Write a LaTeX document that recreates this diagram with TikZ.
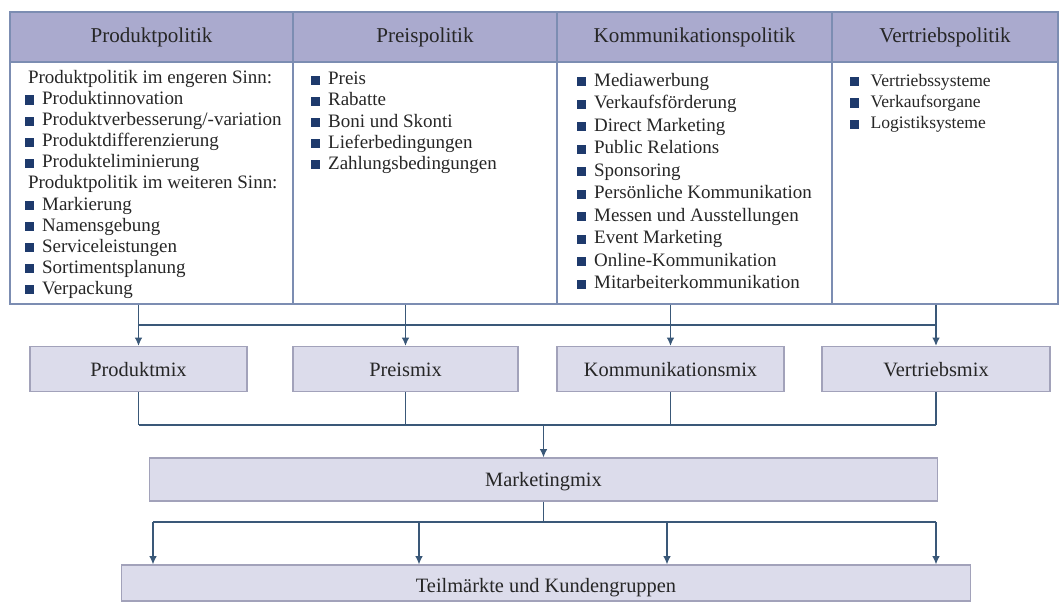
\documentclass[tikz,border=0pt]{standalone}
\usepackage{fontspec}
\setmainfont{Liberation Serif}
\usetikzlibrary{arrows.meta}

\definecolor{headfill}{HTML}{AAAACE}
\definecolor{tableline}{HTML}{7C8DB2}
\definecolor{mixfill}{HTML}{DCDCEB}
\definecolor{mixline}{HTML}{A2A2BA}
\definecolor{linkblue}{HTML}{3A5878}
\definecolor{bulletblue}{HTML}{1E3A6C}
\definecolor{textgrey}{HTML}{262626}

\newcommand{\bul}[1][5.5pt]{\textcolor{bulletblue}{\rule{6.5pt}{6.5pt}}\hspace{#1}}

\begin{document}
\begin{tikzpicture}[> = {Latex[length = 6pt, width = 5.5pt]}, x = 0.025cm, y = -0.025cm, text = textgrey,
	head/.style = {draw = tableline, fill = headfill, line width = 1pt, minimum height = 1.25cm, inner sep = 0pt, font = \fontsize{15}{18}\selectfont},
	body/.style = {draw = tableline, line width = 1pt, minimum height = 6.05cm, inner sep = 0pt},
	items/.style = {anchor = north west, align = left, inner sep = 0pt, font = \fontsize{13.5}{15}\selectfont},
	mix/.style = {draw = mixline, fill = mixfill, line width = 0.8pt, minimum height = 1.125cm, inner sep = 0pt, text height = 10pt, text depth = 0pt, font = \fontsize{14.5}{17}\selectfont},
	link/.style = {draw = linkblue, line width = 1pt}]

	\useasboundingbox (0, 0) rectangle (1059, 601);

	% Table body
	
	\node [body, minimum width = 7.075cm] (b1) at (151.5, 183) {};
	\node [body, minimum width = 6.6cm] (b2) at (425, 183) {};
	\node [body, minimum width = 6.875cm] (b3) at (694.5, 183) {};
	\node [body, minimum width = 5.65cm] (b4) at (945, 183) {};
	
	% Table header
	
	\node [head, minimum width = 7.075cm] (h1) at (151.5, 37) {Produktpolitik};
	\node [head, minimum width = 6.6cm] (h2) at (425, 37) {Preispolitik};
	\node [head, minimum width = 6.875cm] (h3) at (694.5, 37) {Kommunikationspolitik};
	\node [head, minimum width = 5.65cm] (h4) at (945, 37) {Vertriebspolitik};
	
	% Instruments
	
	\node [items] (l1) at (25, 70) {\hspace*{2pt}Produktpolitik im engeren Sinn:\\
		\bul Produktinnovation\\
		\bul Produktverbesserung/-variation\\
		\bul Produktdifferenzierung\\
		\bul Produkteliminierung\\
		\hspace*{2pt}Produktpolitik im weiteren Sinn:\\
		\bul Markierung\\
		\bul Namensgebung\\
		\bul Serviceleistungen\\
		\bul Sortimentsplanung\\
		\bul Verpackung};
	\node [items] (l2) at (311, 72) {\bul Preis\\
		\bul Rabatte\\
		\bul Boni und Skonti\\
		\bul Lieferbedingungen\\
		\bul Zahlungsbedingungen};
	\node [items, font = \fontsize{13.5}{16}\selectfont] (l3) at (577, 73) {\bul Mediawerbung\\
		\bul Verkaufsförderung\\
		\bul Direct Marketing\\
		\bul Public Relations\\
		\bul Sponsoring\\
		\bul Persönliche Kommunikation\\
		\bul Messen und Ausstellungen\\
		\bul Event Marketing\\
		\bul Online-Kommunikation\\
		\bul Mitarbeiterkommunikation};
	\node [items, font = \fontsize{12.5}{15}\selectfont] (l4) at (850, 74) {\bul[8pt]Vertriebssysteme\\
		\bul[8pt]Verkaufsorgane\\
		\bul[8pt]Logistiksysteme};
	
	% Mix boxes
	
	\node [mix, minimum width = 5.425cm] (mixprod) at (138.5, 369) {Produktmix};
	\node [mix, minimum width = 5.625cm] (mixpreis) at (405.5, 369) {Preismix};
	\node [mix, minimum width = 5.675cm] (mixkomm) at (670.5, 369) {Kommunikationsmix};
	\node [mix, minimum width = 5.7cm] (mixvert) at (936, 369) {Vertriebsmix};
	
	\node [mix, minimum width = 19.675cm, minimum height = 1.075cm] (mmix) at (543.5, 479.5) {Marketingmix};
	\node [mix, minimum width = 21.2cm, minimum height = 0.9cm, text height = 13.5pt] (markt) at (546, 583) {Teilmärkte und Kundengruppen};
	
	% Connectors
	
	\coordinate (topbus) at (0, 325);
	\coordinate (midbus) at (0, 425);
	\coordinate (drop1) at (153, 522);
	\coordinate (drop2) at (419, 522);
	\coordinate (drop3) at (667, 522);
	\coordinate (drop4) at (936, 522);
	
	\draw [link, ->] (mixprod |- b1.south) -- (mixprod.north);
	\draw [link, ->] (mixpreis |- b2.south) -- (mixpreis.north);
	\draw [link, ->] (mixkomm |- b3.south) -- (mixkomm.north);
	\draw [link, ->] (mixvert |- b4.south) -- (mixvert.north);
	\draw [link] (mixprod |- topbus) -- (mixvert |- topbus);
	
	\draw [link] (mixprod.south) -- (mixprod |- midbus);
	\draw [link] (mixpreis.south) -- (mixpreis |- midbus);
	\draw [link] (mixkomm.south) -- (mixkomm |- midbus);
	\draw [link] (mixvert.south) -- (mixvert |- midbus);
	\draw [link] (mixprod |- midbus) -- (mixvert |- midbus);
	\draw [link, ->] (mmix |- midbus) -- (mmix.north);
	
	\draw [link] (mmix.south) -- (mmix.south |- drop1);
	\draw [link] (drop1) -- (drop4);
	\draw [link, ->] (drop1) -- (drop1 |- markt.north);
	\draw [link, ->] (drop2) -- (drop2 |- markt.north);
	\draw [link, ->] (drop3) -- (drop3 |- markt.north);
	\draw [link, ->] (drop4) -- (drop4 |- markt.north);
	
\end{tikzpicture}
\end{document}
